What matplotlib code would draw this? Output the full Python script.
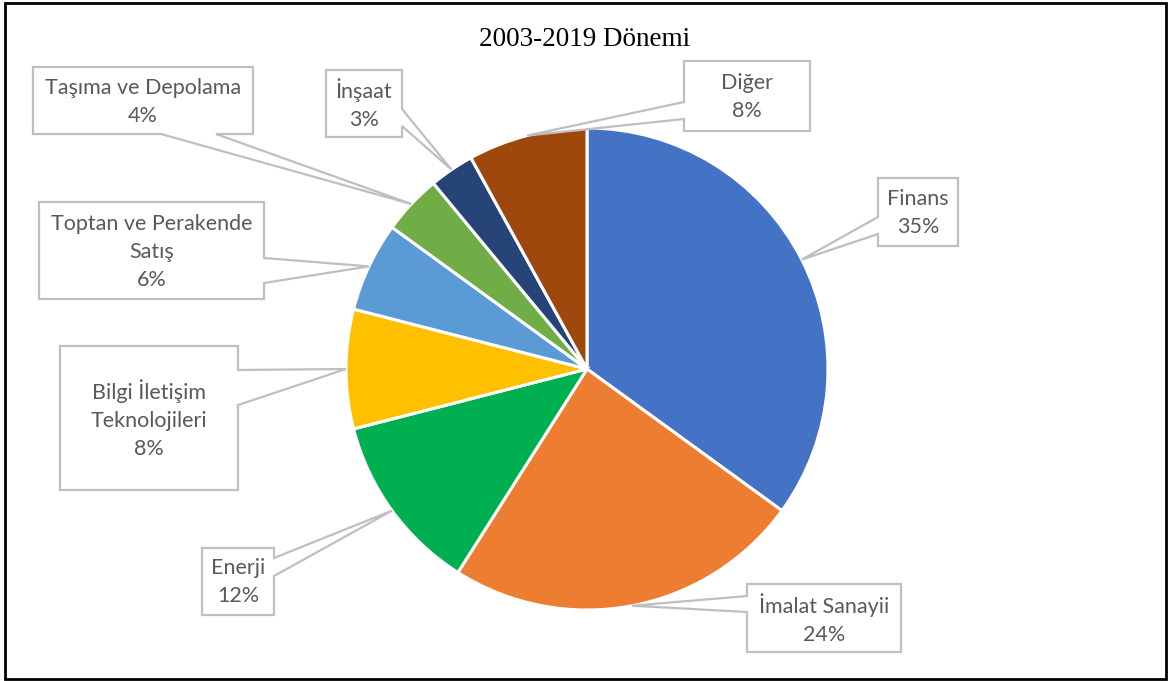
import matplotlib.pyplot as plt
from matplotlib.patches import Polygon, Rectangle
import numpy as np

sectors = ["Finans", "İmalat Sanayii", "Enerji", "Bilgi İletişim\nTeknolojileri",
           "Toptan ve Perakende\nSatış", "Taşıma ve Depolama", "İnşaat", "Diğer"]
shares = [35, 24, 12, 8, 6, 4, 3, 8]
colors = ["#4472C4", "#ED7D31", "#00B050", "#FFC000",
          "#5B9BD5", "#70AD47", "#264478", "#9E480E"]
title = "2003-2019 Dönemi"

W, H = 1169, 681
CENTER = (587, H - 369)
RADIUS = 241

# callout boxes in pixel coords (left, top, right, bottom), measured from the top
# plus which side the pointer leaves from and the span of the notch on that side
callouts = [
    ((878, 178, 958, 246), "left", (217, 234)),
    ((747, 584, 901, 652), "left", (596, 612)),
    ((202, 548, 274, 615), "right", (558, 576)),
    ((60, 346, 238, 490), "right", (370, 405)),
    ((39, 202, 264, 299), "right", (258, 283)),
    ((33, 67, 253, 134), "bottom", (161, 216)),
    ((326, 70, 402, 137), "right", (109, 126)),
    ((684, 61, 810, 131), "left", (102, 119)),
]

GRAY_TXT = "#595959"
GRAY_EDGE = "#BFBFBF"


def callout_shape(box, side, span, tip):
    x0, t, x1, b = box
    t, b = H - t, H - b
    s0, s1 = span
    if side == "right":
        s0, s1 = H - s0, H - s1
        pts = [(x0, t), (x1, t), (x1, s0), tip, (x1, s1), (x1, b), (x0, b)]
    elif side == "left":
        s0, s1 = H - s0, H - s1
        pts = [(x0, t), (x1, t), (x1, b), (x0, b), (x0, s1), tip, (x0, s0)]
    else:  # bottom
        pts = [(x0, t), (x1, t), (x1, b), (s1, b), tip, (s0, b), (x0, b)]
    return pts


fig = plt.figure(figsize=(W / 100, H / 100), dpi=100)
ax = fig.add_axes([0, 0, 1, 1])

wedges, _ = ax.pie(shares, colors=colors, startangle=90, counterclock=False,
                   center=CENTER, radius=RADIUS,
                   wedgeprops=dict(edgecolor="white", linewidth=2.2))

for w, name, val, (box, side, span) in zip(wedges, sectors, shares, callouts):
    mid = np.deg2rad((w.theta1 + w.theta2) / 2)
    tip = (CENTER[0] + RADIUS * np.cos(mid), CENTER[1] + RADIUS * np.sin(mid))
    shape = Polygon(callout_shape(box, side, span, tip), closed=True,
                    facecolor="white", edgecolor=GRAY_EDGE, linewidth=1.6, zorder=3)
    ax.add_patch(shape)
    x0, t, x1, b = box
    ax.text((x0 + x1) / 2, H - (t + b) / 2 - 1, f"{name}\n{val:.0f}%",
            ha="center", va="center", color=GRAY_TXT, family="Lato",
            fontsize=15.5, linespacing=1.5, zorder=4)

ax.text(585, H - 40, title, ha="center", va="center",
        family="Liberation Serif", fontsize=19.5, color="black")

ax.add_patch(Rectangle((5, 2), W - 8, H - 5, fill=False,
                       edgecolor="black", linewidth=2, zorder=5))

ax.set_xlim(0, W)
ax.set_ylim(0, H)
ax.set_aspect("auto")
ax.axis("off")

fig.savefig("out.png", dpi=100)
